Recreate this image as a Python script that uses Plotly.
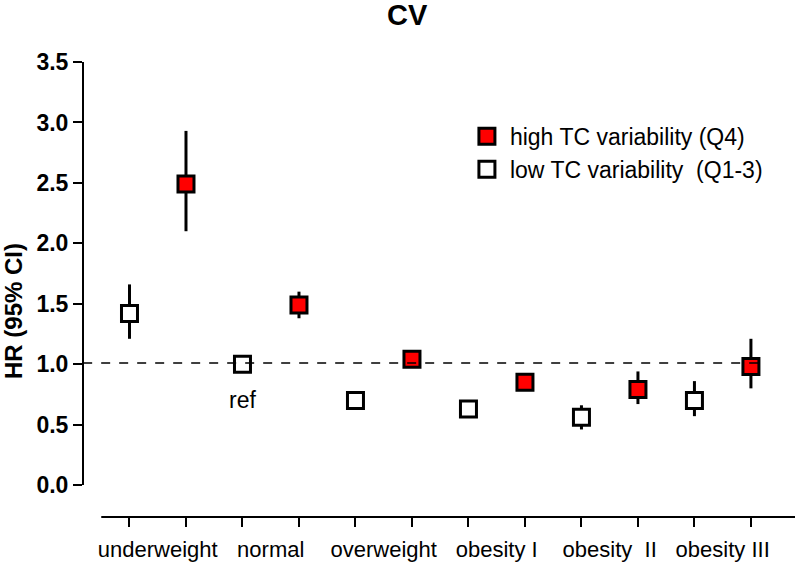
import plotly.graph_objects as go

categories = ["underweight", "normal", "overweight", "obesity I", "obesity  II", "obesity III"]

# HR (95% CI), high TC variability (Q4)
high_hr = [2.49, 1.49, 1.04, 0.85, 0.79, 0.98]
high_lo = [2.10, 1.38, 1.00, 0.79, 0.67, 0.80]
high_hi = [2.93, 1.60, 1.11, 0.91, 0.94, 1.21]

# HR (95% CI), low TC variability (Q1-3)
low_hr = [1.42, 1.00, 0.70, 0.63, 0.56, 0.70]
low_lo = [1.21, 1.00, 0.66, 0.58, 0.46, 0.57]
low_hi = [1.66, 1.00, 0.74, 0.68, 0.66, 0.86]

ytick_vals = [0.0, 0.5, 1.0, 1.5, 2.0, 2.5, 3.0, 3.5]

x_low = [2 * i for i in range(len(categories))]
x_high = [2 * i + 1 for i in range(len(categories))]
x_label = [2 * i + 0.5 for i in range(len(categories))]

font_main = "Liberation Sans, Arial"

fig = go.Figure()
fig.add_trace(go.Scatter(
    x=x_high, y=high_hr, mode="markers",
    name="high TC variability (Q4)",
    marker=dict(symbol="square", size=16, color="#ff0000",
                line=dict(color="black", width=3)),
    error_y=dict(type="data", symmetric=False,
                 array=[h - m for h, m in zip(high_hi, high_hr)],
                 arrayminus=[m - l for m, l in zip(high_hr, high_lo)],
                 color="black", thickness=3, width=0),
))
fig.add_trace(go.Scatter(
    x=x_low, y=low_hr, mode="markers",
    name="low TC variability  (Q1-3)",
    marker=dict(symbol="square", size=16, color="white",
                line=dict(color="black", width=3)),
    error_y=dict(type="data", symmetric=False,
                 array=[h - m for h, m in zip(low_hi, low_hr)],
                 arrayminus=[m - l for m, l in zip(low_hr, low_lo)],
                 color="black", thickness=3, width=0),
))
# category labels on an overlaid axis, centred between each pair
fig.add_trace(go.Scatter(x=x_label, y=[None] * len(x_label), xaxis="x2",
                         showlegend=False, hoverinfo="skip"))

# reference line at HR = 1
fig.add_shape(type="line", x0=-0.82, x1=11.16, y0=1.01, y1=1.01,
              line=dict(color="black", width=1.5, dash="dash"))
# y axis line
fig.add_shape(type="line", xref="x domain", x0=0, x1=0, y0=0, y1=3.5,
              line=dict(color="black", width=2))
# x axis line
fig.add_shape(type="line", x0=-0.5, x1=11.8, y0=-0.264, y1=-0.264,
              line=dict(color="black", width=2))

fig.add_annotation(x=x_low[1], y=0.70, text="ref", showarrow=False,
                   font=dict(size=23, color="black", family=font_main))

axis_pos = (-0.264 + 0.62) / 4.12

fig.update_layout(
    width=800, height=565,
    margin=dict(l=83, r=5, t=62, b=3),
    paper_bgcolor="white", plot_bgcolor="white",
    title=dict(text="<b>CV</b>", x=0.509, xanchor="center",
               y=1 - 15 / 565, yref="container", yanchor="middle",
               font=dict(size=29, color="black", family=font_main)),
    xaxis=dict(range=[-0.823, 11.78], tickvals=x_low + x_high,
               showticklabels=False, ticks="outside", ticklen=9,
               tickwidth=1.5, tickcolor="black",
               showline=False, showgrid=False, zeroline=False,
               anchor="free", position=axis_pos),
    xaxis2=dict(overlaying="x", matches="x", tickvals=x_label,
                ticktext=categories, ticks="outside", ticklen=13,
                tickcolor="rgba(0,0,0,0)", showline=False,
                showgrid=False, zeroline=False,
                anchor="free", position=axis_pos,
                tickfont=dict(size=22, color="black", family=font_main)),
    yaxis=dict(range=[-0.62, 3.5], tickvals=ytick_vals,
               ticktext=["<b>%.1f</b>" % v for v in ytick_vals],
               ticks="outside", ticklen=9, tickwidth=1.5,
               tickcolor="black", showline=False, showgrid=False,
               zeroline=False,
               tickfont=dict(size=23, color="black", family=font_main),
               title=dict(text="<b>HR (95% CI)</b>", standoff=8,
                          font=dict(size=24, color="black", family=font_main))),
    legend=dict(x=0.535, y=0.894, xanchor="left", yanchor="top",
                bgcolor="rgba(0,0,0,0)", tracegroupgap=0, itemwidth=36,
                font=dict(size=23, color="black", family=font_main)),
    showlegend=True,
)

# drop the default page margin so the figure sits at the window's corner
fig.write_html("out.html", config={"displayModeBar": False},
               post_script="document.body.style.margin='0';")
